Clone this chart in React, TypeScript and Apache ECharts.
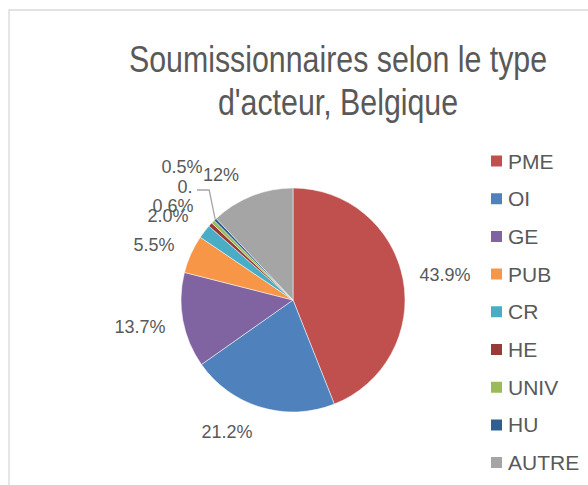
import React, { useEffect, useRef } from "react";
import * as echarts from "echarts";

const categories = ["PME", "OI", "GE", "PUB", "CR", "HE", "UNIV", "HU", "AUTRE"];
const values = [43.9, 21.2, 13.7, 5.5, 2.0, 0.6, 0.5, 0.4, 12];
const labelTexts = ["43.9%", "21.2%", "13.7%", "5.5%", "2.0%", "0.6%", "0.5%", "0.", "12%"];
const colors = ["#C0504D", "#4F81BD", "#8064A2", "#F79646", "#4BACC6", "#9A3A37", "#9BBB59", "#2F5E91", "#A5A5A5"];
const titleText = "Soumissionnaires selon le type\nd'acteur, Belgique";

// label centre positions (layout only)
const labelPos: number[][] = [
  [445, 275], [227, 432], [140, 327], [154, 245], [168, 216],
  [173, 206], [182, 167], [185, 187], [221, 175],
];

const FONT = "'Liberation Sans', Arial, sans-serif";
const TXT = "#595959";

export default function App() {
  const ref = useRef<HTMLDivElement>(null);
  useEffect(() => {
    if (!ref.current) return;
    const chart = echarts.init(ref.current, null, { renderer: "svg" });
    chart.setOption({
      animation: false,
      color: colors,
      graphic: [
        {
          type: "rect",
          shape: { x: 9, y: 10, width: 700, height: 600 },
          style: { fill: "none", stroke: "#d9d9d9", lineWidth: 1.3 },
          silent: true,
        },
        {
          type: "text",
          x: 338,
          y: 37,
          scaleX: 0.82,
          style: {
            text: titleText,
            align: "center",
            verticalAlign: "top",
            fontFamily: FONT,
            fontSize: 37,
            lineHeight: 43,
            fill: TXT,
          },
        },
      ],
      legend: {
        orient: "vertical",
        left: 489,
        top: 150,
        padding: 0,
        itemWidth: 13,
        itemHeight: 13,
        itemGap: 15.7,
        icon: "rect",
        data: categories,
        textStyle: { color: TXT, fontSize: 21, lineHeight: 22, fontFamily: FONT },
      },
      series: [
        {
          type: "pie",
          center: [293, 300],
          radius: 112,
          startAngle: 90,
          clockwise: true,
          itemStyle: { borderColor: "#fff", borderWidth: 0.5 },
          label: {
            show: true,
            position: "outside",
            color: TXT,
            fontSize: 18,
            fontFamily: FONT,
            formatter: (p: any) => labelTexts[p.dataIndex],
          },
          labelLine: { show: false },
          labelLayout: (p: any) => {
            const pos = labelPos[p.dataIndex];
            const out: any = { x: pos[0], y: pos[1], align: "center", verticalAlign: "middle" };
            if (p.dataIndex === 7 && p.labelLinePoints && p.labelLinePoints[0]) {
              const s = p.labelLinePoints[0];
              out.labelLinePoints = [[s[0], s[1]], [s[0] - 6, pos[1] + 3], [pos[0] + 12, pos[1] + 3]];
            }
            return out;
          },
          data: categories.map((c, i) => ({
            name: c,
            value: values[i],
            labelLine: i === 7 ? { show: true, lineStyle: { color: "#a6a6a6", width: 1.3 } } : undefined,
          })),
        },
      ],
    });
    return () => chart.dispose();
  }, []);
  return (
    <div
      ref={ref}
      style={{ position: "fixed", left: 0, top: 0, width: 588, height: 485, background: "#fff" }}
    />
  );
}
